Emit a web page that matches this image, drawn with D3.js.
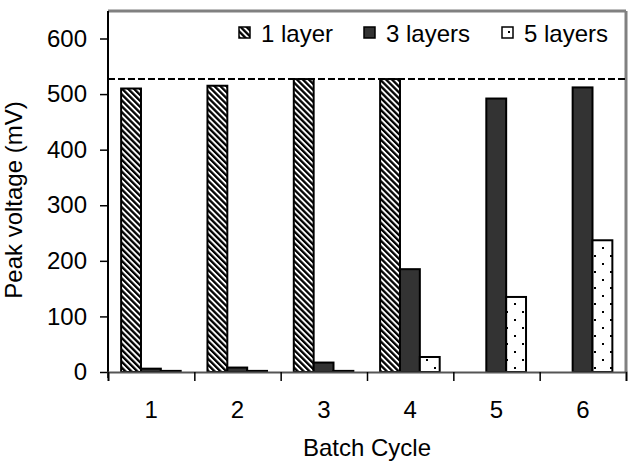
<!DOCTYPE html>
<html>
<head>
<meta charset="utf-8">
<script src="https://cdn.jsdelivr.net/npm/d3@7"></script>
<style>
  body { margin: 0; background: #fff; }
  text { font-family: "Liberation Sans", Arial, sans-serif; }
</style>
</head>
<body>
<div id="vis1"></div>
<script>
const FRAME_WIDTH = 633;
const FRAME_HEIGHT = 463;
const MARGINS = {left: 108, right: 7, top: 11, bottom: 90};

const VIS_WIDTH = FRAME_WIDTH - MARGINS.left - MARGINS.right;
const VIS_HEIGHT = FRAME_HEIGHT - MARGINS.top - MARGINS.bottom;

// data
const cycles = ["1", "2", "3", "4", "5", "6"];
const seriesNames = ["1 layer", "3 layers", "5 layers"];
const oneLayer = [510, 515, 527, 527, 0, 0];
const threeLayers = [6, 8, 17, 185, 492, 512];
const fiveLayers = [2, 2, 2, 27, 135, 237];
const yTicks = [0, 100, 200, 300, 400, 500, 600];
const refLine = 527;

const seriesValues = [oneLayer, threeLayers, fiveLayers];
const fills = ["url(#stripes)", "#333333", "url(#dots)"];
const FONT = "24px";

const FRAME = d3.select("#vis1")
                .append("svg")
                  .attr("width", FRAME_WIDTH)
                  .attr("height", FRAME_HEIGHT);

// fill patterns
const defs = FRAME.append("defs");
const stripes = defs.append("pattern")
    .attr("id", "stripes")
    .attr("patternUnits", "userSpaceOnUse")
    .attr("width", 4.2)
    .attr("height", 4.2)
    .attr("patternTransform", "rotate(-45)");
stripes.append("rect").attr("width", 4.2).attr("height", 4.2).attr("fill", "#fff");
stripes.append("rect").attr("width", 2.3).attr("height", 4.2).attr("fill", "#000");

const dots = defs.append("pattern")
    .attr("id", "dots")
    .attr("patternUnits", "userSpaceOnUse")
    .attr("width", 16)
    .attr("height", 16)
    .attr("x", 3)
    .attr("y", 1);
dots.append("rect").attr("width", 16).attr("height", 16).attr("fill", "#fff");
dots.append("rect").attr("x", 3).attr("y", 3).attr("width", 2).attr("height", 2).attr("fill", "#000");
dots.append("rect").attr("x", 11).attr("y", 11).attr("width", 2).attr("height", 2).attr("fill", "#000");

const g = FRAME.append("g")
    .attr("transform", "translate(" + MARGINS.left + "," + MARGINS.top + ")");

// scales
const X_SCALE = d3.scaleBand()
                  .domain(cycles)
                  .range([0, VIS_WIDTH]);

const bw = X_SCALE.bandwidth();
const X_INNER = d3.scaleBand()
                  .domain(seriesNames)
                  .range([bw * 0.152, bw * 0.842]);

const Y_SCALE = d3.scaleLinear()
                  .domain([0, 600])
                  .range([VIS_HEIGHT - 1, 27.5]);

// gray frame top and right
g.append("line")
  .attr("x1", 0).attr("x2", VIS_WIDTH)
  .attr("y1", 0).attr("y2", 0)
  .attr("stroke", "#808080").attr("stroke-width", 3);
g.append("line")
  .attr("x1", VIS_WIDTH).attr("x2", VIS_WIDTH)
  .attr("y1", 0).attr("y2", Y_SCALE(0))
  .attr("stroke", "#808080").attr("stroke-width", 3);

// bars
seriesNames.forEach((name, i) => {
  g.selectAll(".bar" + i)
    .data(cycles.map((c, j) => ({cycle: c, value: seriesValues[i][j]})).filter(d => d.value > 0))
    .enter()
    .append("rect")
      .attr("x", d => X_SCALE(d.cycle) + X_INNER(name))
      .attr("width", X_INNER.bandwidth())
      .attr("y", d => Y_SCALE(d.value))
      .attr("height", d => Y_SCALE(0) - Y_SCALE(d.value))
      .attr("fill", fills[i])
      .attr("stroke", "#000")
      .attr("stroke-width", 2);
});

// dashed reference line
g.append("line")
  .attr("x1", 0).attr("x2", VIS_WIDTH)
  .attr("y1", Y_SCALE(refLine)).attr("y2", Y_SCALE(refLine))
  .attr("stroke", "#000")
  .attr("stroke-width", 2)
  .attr("stroke-dasharray", "7,3");

// y axis
const yAxis = g.append("g")
  .call(d3.axisLeft(Y_SCALE).tickValues(yTicks).tickSize(8).tickPadding(13));
yAxis.select(".domain").attr("d", "M0," + (Y_SCALE(0) + 6) + "V0").attr("stroke-width", 2);
yAxis.selectAll(".tick line").attr("stroke-width", 1.5);
yAxis.selectAll("text").attr("font-size", FONT).attr("fill", "#000");

// x axis: ticks at category borders, labels at centres
const X_EDGES = d3.scaleLinear().domain([0, cycles.length]).range([0, VIS_WIDTH]);
const xTicks = g.append("g")
  .attr("transform", "translate(0," + Y_SCALE(0) + ")")
  .call(d3.axisBottom(X_EDGES).ticks(cycles.length).tickSize(9).tickFormat(""));
xTicks.select(".domain").attr("stroke", "#555").attr("stroke-width", 2);
xTicks.selectAll(".tick line").attr("stroke-width", 1.5);

const xLabels = g.append("g")
  .attr("transform", "translate(0," + Y_SCALE(0) + ")")
  .call(d3.axisBottom(X_SCALE).tickSize(0).tickPadding(29));
xLabels.select(".domain").remove();
xLabels.selectAll("text").attr("font-size", FONT).attr("fill", "#000");

// axis titles
FRAME.append("text")
  .attr("x", MARGINS.left + VIS_WIDTH / 2)
  .attr("y", 456)
  .attr("text-anchor", "middle")
  .attr("font-size", FONT)
  .text("Batch Cycle");

FRAME.append("text")
  .attr("transform", "translate(22,200) rotate(-90)")
  .attr("text-anchor", "middle")
  .attr("font-size", FONT)
  .text("Peak voltage (mV)");

// legend
const legendX = [239, 364, 502];
const legend = FRAME.selectAll(".legend")
  .data(seriesNames)
  .enter()
  .append("g")
    .attr("transform", (d, i) => "translate(" + legendX[i] + ",27)");
legend.append("rect")
  .attr("width", 11).attr("height", 11)
  .attr("fill", (d, i) => fills[i])
  .attr("stroke", "#000")
  .attr("stroke-width", 1.5);
legend.append("text")
  .attr("x", 22)
  .attr("y", 15)
  .attr("font-size", FONT)
  .text(d => d);
</script>
</body>
</html>
